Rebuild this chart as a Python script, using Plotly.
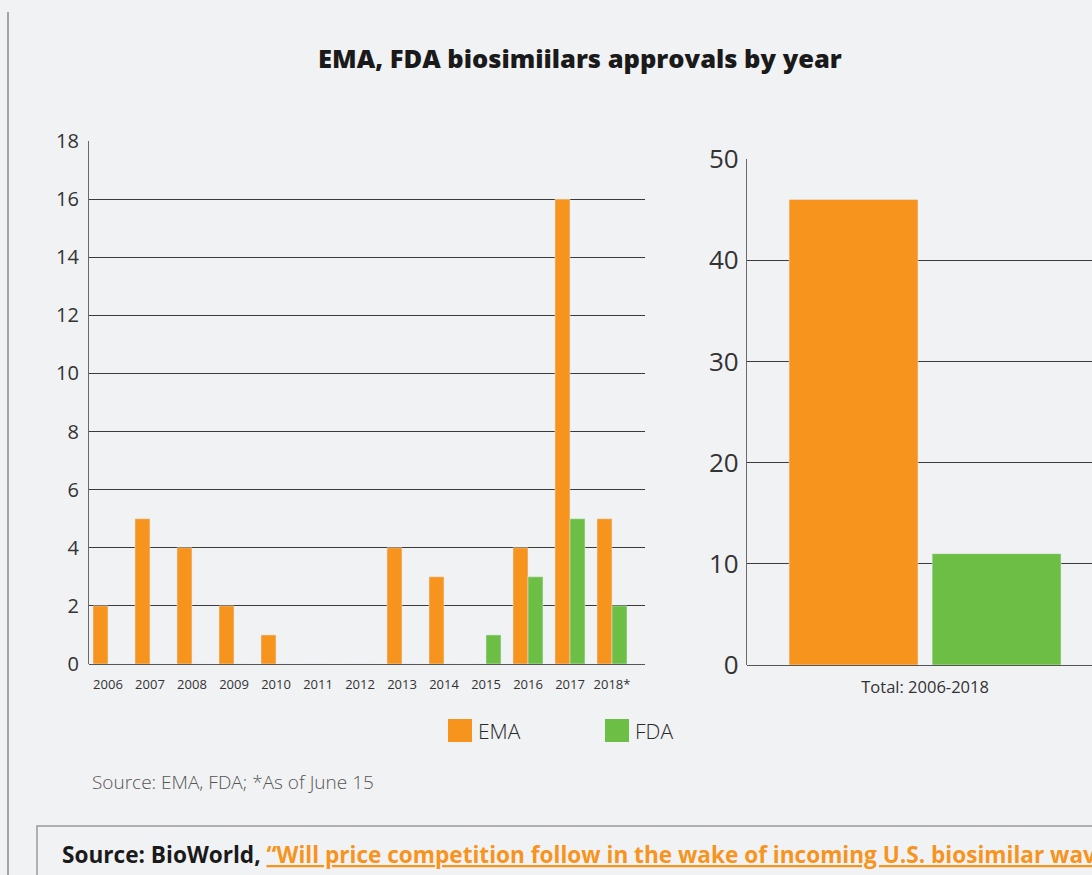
import plotly.graph_objects as go

# ---- data ----
years = ["2006", "2007", "2008", "2009", "2010", "2011", "2012",
         "2013", "2014", "2015", "2016", "2017", "2018*"]
ema_by_year = [2, 5, 4, 2, 1, 0, 0, 4, 3, 0, 4, 16, 5]
fda_by_year = [0, 0, 0, 0, 0, 0, 0, 0, 0, 1, 3, 5, 2]
total_label = ["Total: 2006-2018"]
ema_total = [46]
fda_total = [11]

ORANGE = "#F7941E"
GREEN = "#6CBE45"
BG = "#F1F2F4"
W, H = 1092, 875


def px(x):
    return x / W


def py(y):
    return 1 - y / H


fig = go.Figure()
fig.add_trace(go.Bar(x=years, y=ema_by_year, name="EMA", marker_color=ORANGE,
                     xaxis="x", yaxis="y", showlegend=False))
fig.add_trace(go.Bar(x=years, y=fda_by_year, name="FDA", marker_color=GREEN,
                     xaxis="x", yaxis="y", showlegend=False))
# right panel: explicit bar width / offset (in category units)
fig.add_trace(go.Bar(x=total_label, y=ema_total, name="EMA", marker_color=ORANGE,
                     xaxis="x2", yaxis="y2", showlegend=False,
                     width=0.383, offset=-0.404))
fig.add_trace(go.Bar(x=total_label, y=fda_total, name="FDA", marker_color=GREEN,
                     xaxis="x2", yaxis="y2", showlegend=False,
                     width=0.383, offset=0.021))

axis_font = dict(family="Open Sans", color="#333333")

fig.update_layout(
    width=W, height=H,
    margin=dict(l=0, r=0, t=0, b=0, autoexpand=False),
    paper_bgcolor=BG, plot_bgcolor=BG,
    barmode="group", bargap=0.286, bargroupgap=0.0,
    xaxis=dict(domain=[px(89), px(645)], anchor="y", type="category",
               range=[-0.452, 12.786], showgrid=False, showline=False,
               ticks="outside", ticklen=8, tickcolor="rgba(0,0,0,0)",
               tickfont=dict(size=13, **axis_font), fixedrange=True),
    yaxis=dict(domain=[py(664), py(141)], anchor="x", range=[0, 18], dtick=2,
               showgrid=True, gridcolor="#3a3a3a", gridwidth=1,
               zeroline=True, zerolinecolor="#555555", zerolinewidth=1.2,
               showline=True, linecolor="#6a6a6a", linewidth=1.2,
               ticks="", ticklabelstandoff=5,
               tickfont=dict(size=20, **axis_font)),
    xaxis2=dict(domain=[px(747), 1.0], anchor="y2", type="category",
                range=[-0.529, 0.496], showgrid=False, showline=False,
                ticks="outside", ticklen=7, tickcolor="rgba(0,0,0,0)",
                tickfont=dict(size=16.5, **axis_font)),
    yaxis2=dict(domain=[py(665), py(159)], anchor="x2", range=[0, 50], dtick=10,
                showgrid=True, gridcolor="#3a3a3a", gridwidth=1,
                zeroline=True, zerolinecolor="#555555", zerolinewidth=1.2,
                showline=True, linecolor="#6a6a6a", linewidth=1.2,
                ticks="", ticklabelstandoff=2,
                tickfont=dict(size=26, **axis_font)),
)

shapes = [
    # left vertical rule
    dict(type="line", xref="paper", yref="paper", x0=px(8), x1=px(8),
         y0=py(12), y1=py(880), line=dict(color="#8a8a8a", width=1.5)),
    # bottom source box
    dict(type="rect", xref="paper", yref="paper", x0=px(37), x1=px(1120),
         y0=py(826), y1=py(900), line=dict(color="#9a9a9a", width=1.5),
         fillcolor=BG),
    # legend swatches
    dict(type="rect", xref="paper", yref="paper", x0=px(448), x1=px(472),
         y0=py(719), y1=py(742), line=dict(width=0), fillcolor=ORANGE),
    dict(type="rect", xref="paper", yref="paper", x0=px(605), x1=px(629),
         y0=py(719), y1=py(742), line=dict(width=0), fillcolor=GREEN),
]

annotations = [
    dict(text="EMA, FDA biosimiilars approvals by year", xref="paper", yref="paper",
         x=px(579.5), y=py(58), xanchor="center", yanchor="middle", showarrow=False,
         font=dict(family="Open Sans", size=25.5, color="#1a1a1a", weight=800)),
    dict(text="EMA", xref="paper", yref="paper", x=px(476), y=py(731),
         xanchor="left", yanchor="middle", showarrow=False,
         font=dict(family="Open Sans", size=21, color="#2a2a2a", weight=300)),
    dict(text="FDA", xref="paper", yref="paper", x=px(633), y=py(731),
         xanchor="left", yanchor="middle", showarrow=False,
         font=dict(family="Open Sans", size=21, color="#2a2a2a", weight=300)),
    dict(text="Source: EMA, FDA; *As of June 15", xref="paper", yref="paper",
         x=px(90), y=py(782), xanchor="left", yanchor="middle", showarrow=False,
         font=dict(family="Open Sans", size=19, color="#555555", weight=300)),
    dict(text="<b>Source: BioWorld, </b><span style=\"color:" + ORANGE +
              ";text-decoration:underline\"><b>“Will price competition follow in the wake of incoming U.S. biosimilar wave?”</b></span>",
         xref="paper", yref="paper", x=px(60), y=py(854), xanchor="left",
         yanchor="middle", showarrow=False,
         font=dict(family="Open Sans", size=22.6, color="#1a1a1a")),
]

fig.update_layout(shapes=shapes, annotations=annotations)

fig.write_html("out.html")
